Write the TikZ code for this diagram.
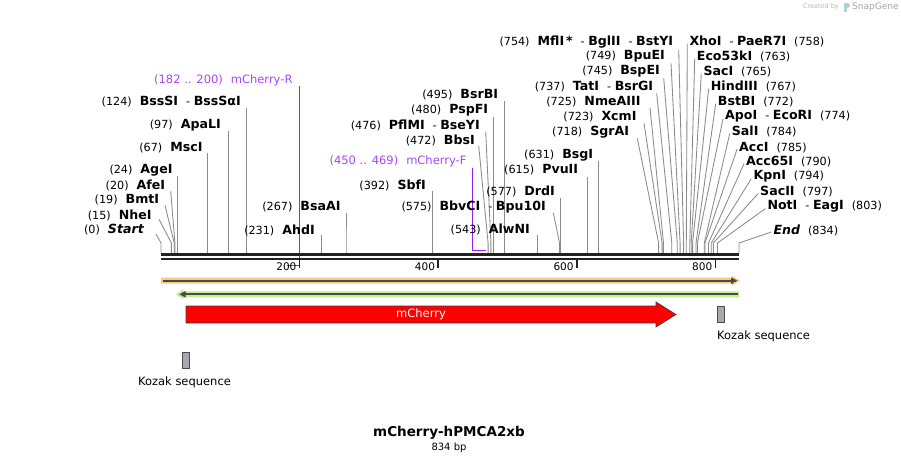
\documentclass[tikz,border=0pt]{standalone}
\usepackage{fontspec}
\setmainfont{DejaVu Sans}
\definecolor{linegray}{HTML}{8A8A8A}
\definecolor{primerc}{HTML}{9A1EF0}
\definecolor{primert}{HTML}{A848F0}
\definecolor{orangeF}{HTML}{F9CB80}
\definecolor{greenF}{HTML}{C0F08E}
\definecolor{darkL}{HTML}{4A4A4A}
\definecolor{bbone}{HTML}{222222}
\definecolor{kozak}{HTML}{A6AAB0}
\newcommand\nm[1]{{\fontsize{12.6}{14}\selectfont\bfseries #1}}
\newcommand\gp{\hspace{8pt}}
\tikzset{
 lbl/.style={inner sep=0pt, font=\fontsize{11.2}{13}\selectfont},
 cut/.style={draw=linegray, line width=0.85pt},
 primer/.style={draw=primerc, line width=1.4pt},
 ticklbl/.style={inner sep=0pt, font=\fontsize{10.5}{12}\selectfont, anchor=east},
}
\usetikzlibrary{calc}
% left-anchored label: id, siteX, label right x, label y, text, line start x, line start y
\newcommand\enzL[7]{%
  \node[lbl, anchor=east] (L#1) at (#3,#4) {#5};
  \coordinate (S#1) at (#2,253.5);
  \coordinate (B#1) at (#2,243);
  \coordinate (E#1) at (#6,#7);
  \draw[cut] (S#1) -- (B#1) -- (E#1);
}
% right label: id, siteX, label left x, label y, text
\newcommand\enzR[5]{%
  \node[lbl, anchor=west] (L#1) at (#3,#4) {#5};
  \coordinate (S#1) at (#2,253.5);
  \coordinate (B#1) at (#2,243);
  \coordinate (E#1) at ($(#3,#4)+(-2,2)$);
  \draw[cut] (S#1) -- (B#1) -- (E#1);
}
\begin{document}
\begin{tikzpicture}[x=1pt,y=-1pt]
\useasboundingbox[fill=white] (0,0) rectangle (901,464);

% created by
\node[inner sep=0pt, anchor=east, text=black!28, font=\fontsize{6.5}{8}\selectfont] (cb) at (839,7) {Created by};
\fill[cyan!35!gray!50] (844,2.5) rectangle (847,12);
\fill[cyan!35!gray!50] (847,2.5) .. controls (851,2.5) and (851,8) .. (847,8) -- cycle;
\node[inner sep=0pt, anchor=west, text=black!35, font=\fontsize{9}{10}\selectfont] (sg) at (852,7) {SnapGene};

% primers
\node[lbl, anchor=east, text=primert, font=\fontsize{11.5}{13}\selectfont] (pR) at (292.7,80.7) {(182 .. 200)\gp mCherry-R};
\coordinate (pRt) at (299.3,86);
\coordinate (pRb) at (299.3,265.5);
\coordinate (pRl) at (286.5,265.5);
\draw[primer] (pRt) -- (pRb) -- (pRl);
\node[lbl, anchor=east, text=primert, font=\fontsize{11.5}{13}\selectfont] (pF) at (466.7,161.7) {(450 .. 469)\gp mCherry-F};
\coordinate (pFt) at (472.3,168);
\coordinate (pFb) at (472.3,250.3);
\coordinate (pFr) at (486,250.3);
\draw[primer] (pFt) -- (pFb) -- (pFr);

% left labels
\enzL{start}{161}{144}{230}{(0)\gp\nm{\itshape Start}}{156}{234}
\enzL{nhe}{171.4}{151.7}{215}{(15)\gp\nm{NheI}}{159}{219.3}
\enzL{bmt}{174.2}{159.3}{200}{(19)\gp\nm{BmtI}}{165}{205.3}
\enzL{afe}{174.9}{165.3}{185}{(20)\gp\nm{AfeI}}{170.7}{191}
\enzL{age}{177.6}{172.7}{170}{(24)\gp\nm{AgeI}}{177.6}{176}
\enzL{msc}{207.4}{202.7}{147.3}{(67)\gp\nm{MscI}}{207.4}{153.3}
\enzL{apa}{228.2}{221}{125}{(97)\gp\nm{ApaLI}}{228.2}{131}
\enzL{bss}{246.9}{241}{101.7}{(124)\gp\nm{BssSI}\gp- \nm{BssSαI}}{246.9}{108}
\enzL{ahd}{321.1}{315}{230}{(231)\gp\nm{AhdI}}{321.1}{235}
\enzL{bsaa}{346}{340.7}{206.7}{(267)\gp\nm{BsaAI}}{346}{213}
\enzL{sbf}{432.7}{426}{185}{(392)\gp\nm{SbfI}}{432.7}{191}
\enzL{bbs}{488.1}{475}{140}{(472)\gp\nm{BbsI}}{478.7}{145.7}
\enzL{pfl}{490.9}{480}{125}{(476)\gp\nm{PflMI}\gp- \nm{BseYI}}{485.7}{131.7}
\enzL{psp}{493.7}{488.3}{110}{(480)\gp\nm{PspFI}}{493.7}{116.7}
\enzL{bsrb}{504.1}{498.3}{95}{(495)\gp\nm{BsrBI}}{504.1}{100.7}
\enzL{alw}{537.3}{530}{229.3}{(543)\gp\nm{AlwNI}}{537.3}{235}
\enzL{bbv}{559.5}{546}{206.7}{(575)\gp\nm{BbvCI}\gp- \nm{Bpu10I}}{553.3}{212.7}
\enzL{drd}{560.9}{555}{191.7}{(577)\gp\nm{DrdI}}{560.9}{198}
\enzL{pvu}{587.2}{578.3}{170}{(615)\gp\nm{PvuII}}{587.2}{176.7}
\enzL{bsg}{598.3}{593.3}{155}{(631)\gp\nm{BsgI}}{598.3}{161}
\enzL{sgr}{658.6}{629.3}{131.7}{(718)\gp\nm{SgrAI}}{637.3}{138.3}
\enzL{xcm}{662.1}{636.7}{116.7}{(723)\gp\nm{XcmI}}{644}{123.3}
\enzL{nme}{663.5}{640.7}{101.7}{(725)\gp\nm{NmeAIII}}{650}{107.7}
\enzL{tat}{671.8}{653.3}{86.7}{(737)\gp\nm{TatI}\gp- \nm{BsrGI}}{656.7}{93.3}
\enzL{bspe}{677.3}{660}{71.7}{(745)\gp\nm{BspEI}}{663.7}{78.3}
\enzL{bpue}{680.1}{665}{56.7}{(749)\gp\nm{BpuEI}}{671}{63.3}
\enzL{mfl}{683.6}{673.3}{41.7}{(754)\gp\nm{MflI}\,\nm{*}\gp- \nm{BglII}\gp- \nm{BstYI}}{678.7}{50}

% right labels
\enzR{xho}{686.3}{689.3}{41.7}{\nm{XhoI}\gp- \nm{PaeR7I}\gp(758)}
\enzR{eco53}{689.8}{696.7}{56.7}{\nm{Eco53kI}\gp(763)}
\enzR{sac}{691.2}{703.3}{71.7}{\nm{SacI}\gp(765)}
\enzR{hind}{692.6}{710.7}{86.7}{\nm{HindIII}\gp(767)}
\enzR{bstb}{696}{717.7}{101.7}{\nm{BstBI}\gp(772)}
\enzR{apo}{697.4}{725}{116.7}{\nm{ApoI}\gp- \nm{EcoRI}\gp(774)}
\enzR{sal}{704.3}{731.7}{131.7}{\nm{SalI}\gp(784)}
\enzR{acc}{705}{739}{147.3}{\nm{AccI}\gp(785)}
\enzR{acc65}{708.5}{746}{161.7}{\nm{Acc65I}\gp(790)}
\enzR{kpn}{711.3}{753.3}{176.7}{\nm{KpnI}\gp(794)}
\enzR{sacii}{713.4}{760}{191.7}{\nm{SacII}\gp(797)}
\enzR{not}{717.5}{767.3}{206.7}{\nm{NotI}\gp- \nm{EagI}\gp(803)}
\enzR{end}{739}{773.3}{230}{\nm{\itshape End}\gp(834)}

% backbone
\draw[bbone, line width=2.6pt] (161,254.6) -- (739,254.6);
\draw[bbone, line width=2.4pt] (161,258.8) -- (739,258.8);

% ticks
\foreach \v/\xx in {200/299.6,400/438.2,600/576.8,800/715.4}{
  \draw[bbone, line width=1.5pt] (\xx,259) -- (\xx,268);
  \node[ticklbl] (t\v) at (\xx-3,267) {\v};
}

% orange feature (forward)
\fill[orangeF] (161,277.7) -- (732,277.7) -- (732,275.7) -- (740,280.7) -- (732,285.7) -- (732,283.7) -- (161,283.7) -- cycle;
\draw[darkL, line width=2pt] (162.7,280.7) -- (732,280.7);
\fill[darkL] (731,277.4) -- (737.5,280.7) -- (731,284) -- cycle;

% green feature (reverse)
\fill[greenF] (739,291.3) -- (183.3,291.3) -- (183.3,289.3) -- (176,294.3) -- (183.3,299.3) -- (183.3,297.3) -- (739,297.3) -- cycle;
\draw[darkL, line width=2pt] (737.5,294.3) -- (184,294.3);
\fill[darkL] (185.5,291) -- (179.3,294.3) -- (185.5,297.6) -- cycle;

% mCherry
\draw[fill=red, draw=black!75, line width=0.7pt] (186,306) -- (656,306) -- (656,302) -- (676,314.5) -- (656,327) -- (656,323) -- (186,323) -- cycle;
\node[text=white, inner sep=0pt, font=\fontsize{11.5}{13}\selectfont] (mch) at (421,314.5) {mCherry};

% Kozak sequences
\node[draw=black!70, fill=kozak, line width=0.6pt, minimum width=7pt, minimum height=16pt, inner sep=0pt] (k1) at (720.5,314) {};
\node[inner sep=0pt, anchor=west, font=\fontsize{11.5}{13}\selectfont] (k1l) at (717,336) {Kozak sequence};
\node[draw=black!70, fill=kozak, line width=0.6pt, minimum width=7pt, minimum height=16pt, inner sep=0pt] (k2) at (185.5,360.5) {};
\node[inner sep=0pt, font=\fontsize{11.5}{13}\selectfont] (k2l) at (184.5,382) {Kozak sequence};

% title
\node[inner sep=0pt, font=\fontsize{13.5}{15}\selectfont\bfseries] (title) at (449,433) {mCherry-hPMCA2xb};
\node[inner sep=0pt, font=\fontsize{10}{12}\selectfont] (bp) at (449,448) {834 bp};
\end{tikzpicture}
\end{document}
